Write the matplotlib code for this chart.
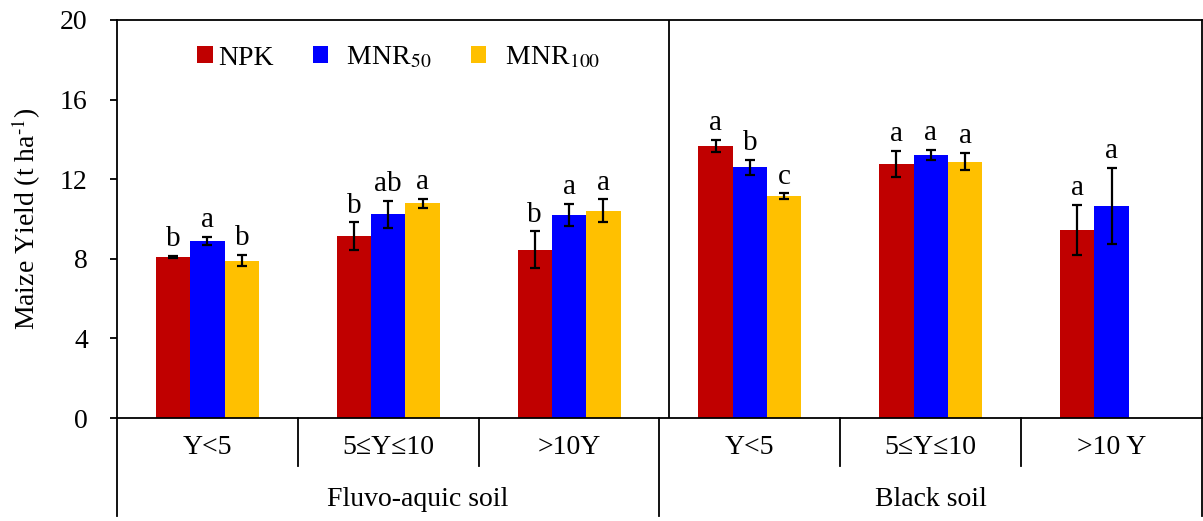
import numpy as np
import matplotlib.pyplot as plt
from matplotlib.patches import Patch
import matplotlib.transforms as mtransforms

plt.rcParams['font.family'] = ['Liberation Serif', 'DejaVu Serif']
plt.rcParams['mathtext.fontset'] = 'stix'

# categories
ages = ['Y<5', '5≤Y≤10', '>10Y', 'Y<5', '5≤Y≤10', '>10 Y']
soils = ['Fluvo-aquic soil', 'Black soil']

# maize yield (t/ha), error and significance letters
npk = [8.08, 9.13, 8.46, 13.67, 12.78, 9.45]
npk_err = [0.05, 0.70, 0.92, 0.30, 0.65, 1.25]
npk_sig = ['b', 'b', 'b', 'a', 'a', 'a']

mnr50 = [8.90, 10.24, 10.22, 12.60, 13.22, 10.66]
mnr50_err = [0.22, 0.67, 0.55, 0.38, 0.27, 1.90]
mnr50_sig = ['a', 'ab', 'a', 'b', 'a', 'a']

# no MNR100 for black soil >10 Y
mnr100 = [7.91, 10.79, 10.42, 11.16, 12.88]
mnr100_err = [0.27, 0.23, 0.56, 0.13, 0.44]
mnr100_sig = ['b', 'a', 'a', 'c', 'a']

colors = ['#C00000', '#0000FF', '#FFC000']
labels = ['NPK', '  MNR$_{50}$', '  MNR$_{100}$']

fig = plt.figure(figsize=(12.03, 5.21), dpi=100)
ax = fig.add_axes([117/1203, 1 - 418/521, 1085/1203, 398/521])

w = 0.19
lw = 1.3
series = [(npk, npk_err, npk_sig), (mnr50, mnr50_err, mnr50_sig), (mnr100, mnr100_err, mnr100_sig)]
for k, (vals, errs, sigs) in enumerate(series):
    x = np.arange(len(vals)) + (k - 1) * w
    ax.bar(x, vals, width=w, color=colors[k], edgecolor='none', zorder=2)
    ax.errorbar(x, vals, yerr=errs, fmt='none', ecolor='black', elinewidth=1.6,
                capsize=3.5, capthick=1.6, zorder=3)
    for xi, v, e, s in zip(x, vals, errs, sigs):
        ax.annotate(s, (xi, v + e), xytext=(0, 7), textcoords='offset points',
                    ha='center', va='baseline', fontsize=21)

ax.set_xlim(-0.5, 5.5)
ax.set_ylim(0, 20)
ax.set_yticks([0, 4, 8, 12, 16, 20])
ax.tick_params(axis='y', direction='out', length=5, width=lw, pad=16, labelsize=20)
ax.set_xticks(range(6))
ax.set_xticklabels(ages, fontsize=20)
ax.tick_params(axis='x', length=0, pad=12)
for s in ax.spines.values():
    s.set_linewidth(lw)
ax.set_ylabel('Maize Yield (t ha$^{\\text{-}1}$)', fontsize=20, labelpad=12)

# divider between soils inside plot
ax.axvline(2.555, color='black', lw=lw, zorder=1)

# multi-level category axis
trans = mtransforms.blended_transform_factory(ax.transData, ax.transAxes)
for xs in [0.5, 1.5, 3.5, 4.5]:
    ax.plot([xs, xs], [0, -0.12], color='black', lw=lw, transform=trans, clip_on=False)
for xs in [-0.5, 2.5, 5.5]:
    ax.plot([xs, xs], [0, -0.246], color='black', lw=lw, transform=trans, clip_on=False)
ax.text(1.165, -0.206, soils[0], transform=trans, ha='center', va='center', fontsize=20)
ax.text(4.0, -0.206, soils[1], transform=trans, ha='center', va='center', fontsize=20)

handles = [Patch(facecolor=c, edgecolor='none') for c in colors]
ax.legend(handles, labels, loc='center left', bbox_to_anchor=(0.074, 0.905), ncol=3,
          frameon=False, fontsize=20, handlelength=0.55, handleheight=0.55,
          handletextpad=0.2, columnspacing=1.4, borderpad=0, borderaxespad=0)

fig.savefig('out.png', dpi=100)
